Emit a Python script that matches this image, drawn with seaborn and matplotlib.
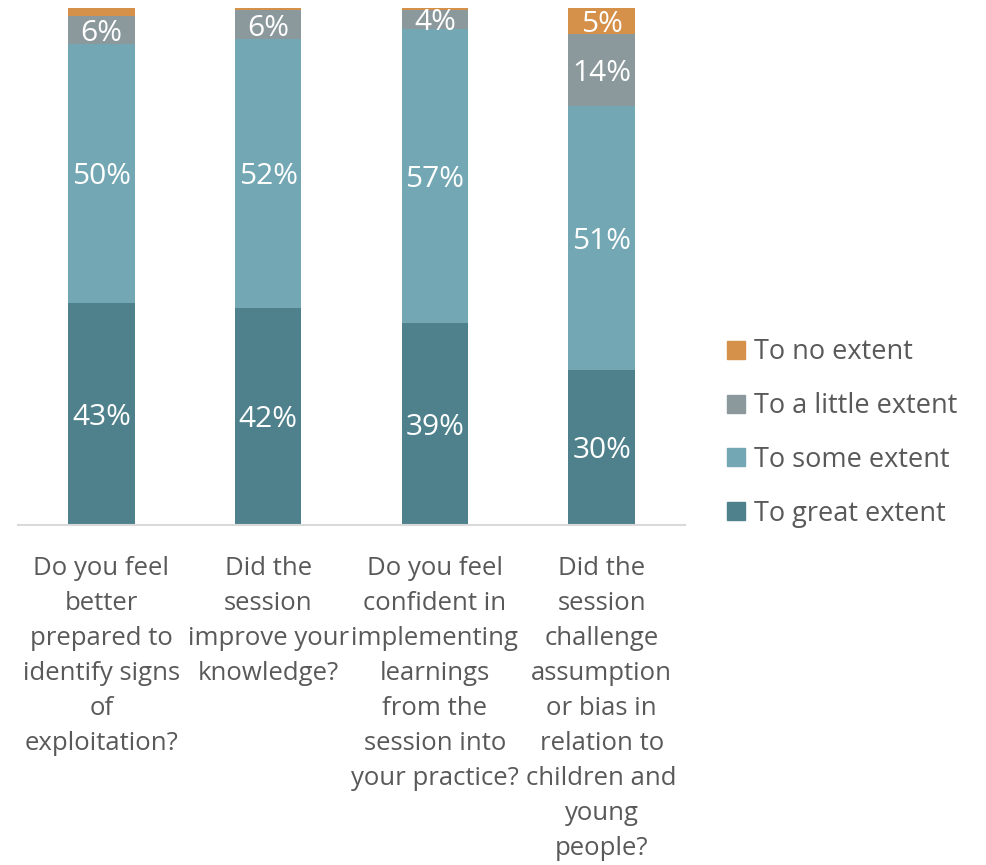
import matplotlib
matplotlib.use("Agg")
import matplotlib.pyplot as plt
import matplotlib.patches as mpatches
import seaborn as sns
import pandas as pd
import numpy as np

questions = [
    "Do you feel\nbetter\nprepared to\nidentify signs\nof\nexploitation?",
    "Did the\nsession\nimprove your\nknowledge?",
    "Do you feel\nconfident in\nimplementing\nlearnings\nfrom the\nsession into\nyour practice?",
    "Did the\nsession\nchallenge\nassumption\nor bias in\nrelation to\nchildren and\nyoung\npeople?",
]
great_extent = [43, 42, 39, 30]
some_extent = [50, 52, 57, 51]
little_extent = [5.5, 5.6, 3.6, 14]
no_extent = [1.5, 0.4, 0.4, 5]

series_names = ["To great extent", "To some extent", "To a little extent", "To no extent"]
series_values = [great_extent, some_extent, little_extent, no_extent]
colors = ["#4F818C", "#72A7B3", "#8C999C", "#D59049"]
text_grey = "#595959"

sns.set_theme(style="white")
plt.rcParams["font.family"] = ["Open Sans", "DejaVu Sans"]

fig = plt.figure(figsize=(9.86, 8.65), dpi=100)
ax = fig.add_axes([18 / 986, 340 / 865, 667 / 986, 517 / 865])

vals = np.array(series_values, dtype=float)
cum = np.cumsum(vals, axis=0)
bottoms = cum - vals

# Draw stacked segments as overlapping cumulative bars, tallest first
for i in range(len(series_names) - 1, -1, -1):
    df = pd.DataFrame({"question": questions, "top": cum[i]})
    sns.barplot(data=df, x="question", y="top", order=questions, color=colors[i],
                width=0.4, saturation=1, ax=ax, edgecolor="none", linewidth=0)

# Value labels centred in each segment
for i in range(len(series_names)):
    for j in range(len(questions)):
        v = vals[i, j]
        if v >= 3:
            ax.text(j, bottoms[i, j] + v / 2, f"{v:.0f}%", ha="center", va="center_baseline",
                    color="white", fontsize=21.5)

ax.set_xlim(-0.5, 3.5)
ax.set_ylim(0, 100)
ax.set_xlabel("")
ax.set_ylabel("")
ax.set_yticks([])
ax.set_xticks(range(len(questions)))
ax.set_xticklabels(questions, fontsize=18.5, color=text_grey, linespacing=1.53, va="top")
ax.tick_params(axis="x", length=0, pad=22)
for side in ["left", "right", "top"]:
    ax.spines[side].set_visible(False)
ax.spines["bottom"].set_color("#D9D9D9")
ax.spines["bottom"].set_linewidth(1.5)

handles = [mpatches.Patch(color=colors[i], label=series_names[i]) for i in range(3, -1, -1)]
fig.legend(handles=handles, loc="center left", bbox_to_anchor=(703 / 986, 1 - 433 / 865),
           frameon=False, fontsize=19.5, labelcolor=text_grey, handlelength=0.65,
           handleheight=0.65, handletextpad=0.35, labelspacing=0.95)

fig.savefig("out.png", dpi=100)
